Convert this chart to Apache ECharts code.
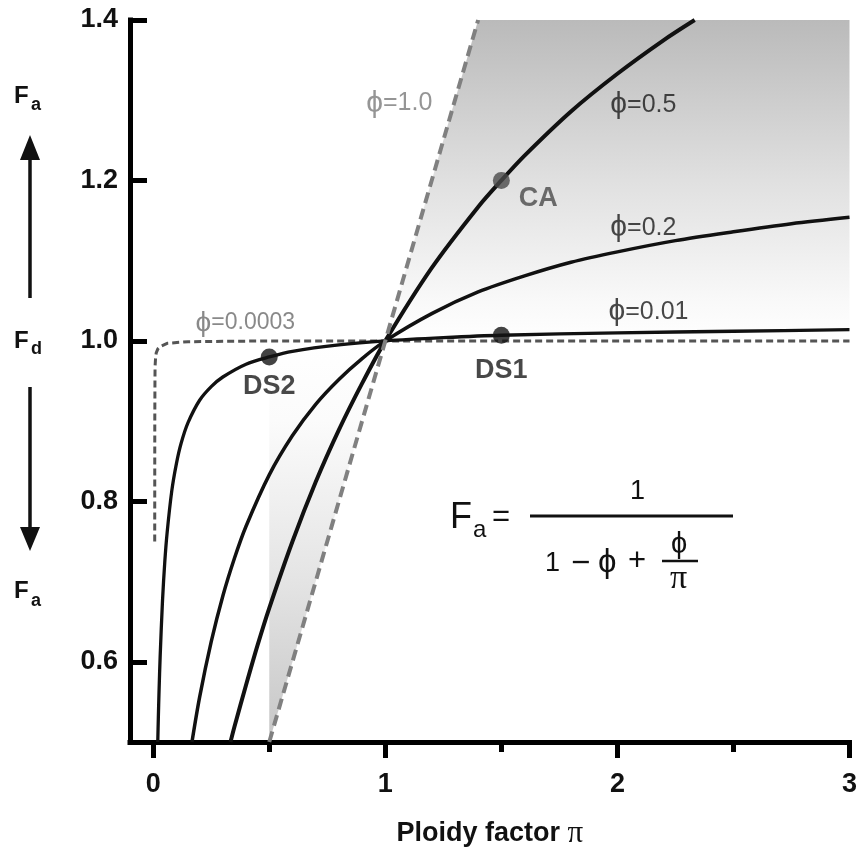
<!DOCTYPE html>
<html>
<head>
<meta charset="utf-8">
<script src="https://cdn.jsdelivr.net/npm/echarts@6/dist/echarts.min.js"></script>
<style>html,body{margin:0;padding:0;background:#fff}#c{width:860px;height:860px}</style>
</head>
<body>
<div id="c"></div>
<script>
// ---- axis ticks ----
const xMajorTicks = [0, 1, 2, 3];
const xMinorTicks = [0.5, 1.5, 2.5];
const yTicks = [0.6, 0.8, 1.0, 1.2, 1.4];

// ---- curves [ploidy factor pi, Fa] ----
const curvePhi05 = [[0.333,0.5],[0.35,0.519],[0.4,0.571],[0.45,0.621],[0.5,0.667],[0.6,0.75],[0.7,0.824],[0.8,0.889],[0.9,0.947],[1.0,1.0],[1.2,1.091],[1.4,1.167],[1.5,1.2],[1.6,1.231],[1.8,1.286],[2.0,1.333],[2.2,1.375],[2.333,1.4]];
const curvePhi02 = [[0.167,0.5],[0.2,0.556],[0.25,0.625],[0.3,0.682],[0.35,0.729],[0.4,0.769],[0.5,0.833],[0.6,0.882],[0.7,0.921],[0.8,0.952],[0.9,0.978],[1.0,1.0],[1.2,1.034],[1.4,1.061],[1.6,1.081],[1.8,1.098],[2.0,1.111],[2.25,1.125],[2.5,1.136],[2.75,1.146],[3.0,1.154]];
const curvePhi001 = [[0.0196,0.5],[0.022,0.529],[0.025,0.562],[0.03,0.607],[0.04,0.676],[0.05,0.725],[0.06,0.761],[0.08,0.813],[0.1,0.847],[0.12,0.872],[0.15,0.898],[0.2,0.926],[0.25,0.943],[0.3,0.955],[0.4,0.971],[0.5,0.98],[0.6,0.987],[0.8,0.995],[1.0,1.0],[1.25,1.004],[1.5,1.007],[2.0,1.01],[2.5,1.012],[3.0,1.014]];
const curvePhi00003 = [[0.0065,0.75],[0.0068,0.9],[0.0075,0.95],[0.008,0.968],[0.010,0.978],[0.013,0.985],[0.02,0.99],[0.03,0.993],[0.06,0.997],[0.15,0.999],[0.5,1.0],[3.0,1.0]];
const curvePhi1 = [[0.5,0.5],[1.4,1.4]];

// ---- shaded regions ----
const shadeUpper = [[1.0,1.0],[1.4,1.4],[3.0,1.4]];
const shadeLower = [[0.5,0.5],[1.0,1.0]];

// ---- marked points ----
const pointNames = ['CA', 'DS2', 'DS1'];
const pointX = [1.5, 0.5, 1.5];
const pointY = [1.2, 0.98, 1.007];

// ---- curve labels ----
const curveLabelPhi = ['1.0', '0.5', '0.2', '0.01', '0.0003'];
const curveLabelX = [1.06, 2.112, 2.112, 2.134, 0.397];
const curveLabelY = [1.296, 1.294, 1.141, 1.036, 1.0225];

const FONT = '"Liberation Sans", Arial, Helvetica, sans-serif';
const SERIF = '"Liberation Serif", "DejaVu Serif", serif';

const chart = echarts.init(document.getElementById('c'), null, {renderer: 'canvas'});

function curve(data, width, color, type, smooth, z) {
  return {
    type: 'line', data: data, showSymbol: false, symbol: 'none',
    smooth: smooth,
    lineStyle: {width: width, color: color, type: type, cap: 'butt'},
    z: z, silent: true
  };
}

const labelColors = ['#7a7a7a', '#1a1a1a', '#1a1a1a', '#1a1a1a', '#6b6b6b'];
const labelSizes = [25, 25, 25, 25, 23];

const option = {
  animation: false,
  backgroundColor: '#fff',
  grid: {left: 130, right: 10, top: 20, bottom: 118, containLabel: false},
  xAxis: [{
    type: 'value', min: -0.1, max: 3, position: 'bottom',
    axisLine: {show: true, onZero: false, lineStyle: {color: '#000', width: 5, cap: 'square'}},
    axisTick: {show: true, inside: false, length: 16, customValues: xMajorTicks, lineStyle: {color: '#000', width: 5}},
    axisLabel: {show: true, customValues: xMajorTicks, formatter: v => String(Math.round(v)), fontSize: 27, fontWeight: 'bold', color: '#111', fontFamily: FONT, margin: 29},
    splitLine: {show: false},
    name: '{a|Ploidy factor }{b|π}', nameLocation: 'middle', nameGap: 76,
    nameTextStyle: {rich: {
      a: {fontSize: 27, fontWeight: 'bold', color: '#111', fontFamily: FONT},
      b: {fontSize: 31, color: '#111', fontFamily: SERIF}
    }}
  }, {
    type: 'value', min: -0.1, max: 3, position: 'bottom', offset: 0,
    axisLine: {show: false, onZero: false},
    axisTick: {show: true, inside: false, length: 10, customValues: xMinorTicks, lineStyle: {color: '#000', width: 5}},
    axisLabel: {show: false},
    splitLine: {show: false}
  }],
  yAxis: {
    type: 'value', min: 0.5, max: 1.4,
    axisLine: {show: true, onZero: false, lineStyle: {color: '#000', width: 5, cap: 'square'}},
    axisTick: {show: true, inside: true, length: 17, customValues: yTicks, lineStyle: {color: '#000', width: 5}},
    axisLabel: {show: true, customValues: yTicks, formatter: v => v.toFixed(1), fontSize: 27, fontWeight: 'bold', color: '#111', fontFamily: FONT, margin: 12},
    splitLine: {show: false}
  },
  series: [
    {
      type: 'line', data: shadeUpper, showSymbol: false, symbol: 'none', silent: true, z: 1,
      lineStyle: {width: 0, opacity: 0},
      areaStyle: {origin: 1, opacity: 1, color: new echarts.graphic.LinearGradient(0, 0, 0, 1, [
        {offset: 0, color: '#bababa'}, {offset: 0.5, color: '#e0e0e0'}, {offset: 0.88, color: '#f9f9f9'}, {offset: 1, color: '#ffffff'}
      ])}
    },
    {
      type: 'line', data: shadeLower, showSymbol: false, symbol: 'none', silent: true, z: 1,
      lineStyle: {width: 0, opacity: 0},
      areaStyle: {origin: 1, opacity: 1, color: new echarts.graphic.LinearGradient(0, 0, 0, 1, [
        {offset: 0, color: '#ffffff'}, {offset: 0.2, color: '#fbfbfb'}, {offset: 0.6, color: '#e4e4e4'}, {offset: 1, color: '#c6c6c6'}
      ])}
    },
    curve(curvePhi00003, 3, '#555555', [7, 4], false, 3),
    curve(curvePhi001, 3.3, '#111111', 'solid', 0.3, 4),
    curve(curvePhi02, 3.5, '#111111', 'solid', 0.3, 4),
    curve(curvePhi05, 4, '#111111', 'solid', 0.3, 4),
    curve(curvePhi1, 4, '#808080', [11, 6], false, 5),
    {
      type: 'scatter', z: 8, silent: true,
      data: pointNames.map((n, i) => ({
        value: [pointX[i], pointY[i]], name: n,
        itemStyle: {color: i === 0 ? '#4a4a4a' : '#141414'},
        label: {
          show: true, formatter: n, position: 'inside',
          offset: i === 0 ? [37, 18] : (i === 1 ? [0, 30] : [0, 35]),
          fontSize: 27, fontWeight: 'bold', fontFamily: FONT,
          color: i === 0 ? '#4a4a4a' : '#1a1a1a'
        }
      })),
      symbol: 'circle', symbolSize: 17
    },
    {
      type: 'scatter', z: 9, silent: true,
      data: curveLabelPhi.map((t, i) => ({
        value: [curveLabelX[i], curveLabelY[i]],
        label: {
          show: true, formatter: '{p|ϕ}{t|=' + t + '}', position: 'inside',
          rich: {
            p: {fontSize: labelSizes[i] + 5, color: labelColors[i], fontFamily: FONT},
            t: {fontSize: labelSizes[i], color: labelColors[i], fontFamily: FONT}
          }
        }
      })),
      symbol: 'circle', symbolSize: 1, itemStyle: {color: 'rgba(0,0,0,0)'}
    }
  ],
  graphic: [
    // left side F labels and arrows
    {type: 'text', left: 14, top: 84, style: {text: 'F', font: 'bold 24px ' + FONT, fill: '#111'}},
    {type: 'text', left: 31, top: 96, style: {text: 'a', font: 'bold 18px ' + FONT, fill: '#111'}},
    {type: 'line', shape: {x1: 30, y1: 298, x2: 30, y2: 156}, style: {stroke: '#111', lineWidth: 3.5}},
    {type: 'polygon', shape: {points: [[20, 160], [40, 160], [30, 135]]}, style: {fill: '#111'}},
    {type: 'text', left: 14, top: 329, style: {text: 'F', font: 'bold 24px ' + FONT, fill: '#111'}},
    {type: 'text', left: 31, top: 340, style: {text: 'd', font: 'bold 18px ' + FONT, fill: '#111'}},
    {type: 'line', shape: {x1: 30, y1: 387, x2: 30, y2: 530}, style: {stroke: '#111', lineWidth: 3.5}},
    {type: 'polygon', shape: {points: [[20, 527], [40, 527], [30, 551]]}, style: {fill: '#111'}},
    {type: 'text', left: 14, top: 579, style: {text: 'F', font: 'bold 24px ' + FONT, fill: '#111'}},
    {type: 'text', left: 31, top: 592, style: {text: 'a', font: 'bold 18px ' + FONT, fill: '#111'}},
    // formula
    {type: 'text', left: 450, top: 500, style: {text: 'F', font: '36px ' + FONT, fill: '#111'}},
    {type: 'text', left: 473, top: 518, style: {text: 'a', font: '24px ' + FONT, fill: '#111'}},
    {type: 'text', left: 492, top: 502, style: {text: '=', font: '31px ' + FONT, fill: '#111'}},
    {type: 'line', shape: {x1: 530, y1: 516, x2: 733, y2: 516}, style: {stroke: '#111', lineWidth: 3}},
    {type: 'text', left: 630, top: 478, style: {text: '1', font: '27px ' + FONT, fill: '#111'}},
    {type: 'text', left: 545, top: 550, style: {text: '1', font: '27px ' + FONT, fill: '#111'}},
    {type: 'text', left: 571, top: 547, style: {text: '−', font: '33px ' + FONT, fill: '#111'}},
    {type: 'text', left: 598, top: 546, style: {text: 'ϕ', font: '33px ' + FONT, fill: '#111'}},
    {type: 'text', left: 628, top: 546, style: {text: '+', font: '31px ' + FONT, fill: '#111'}},
    {type: 'line', shape: {x1: 662, y1: 561, x2: 698, y2: 561}, style: {stroke: '#111', lineWidth: 2.5}},
    {type: 'text', left: 671, top: 530, style: {text: 'ϕ', font: '29px ' + FONT, fill: '#111'}},
    {type: 'text', left: 670, top: 562, style: {text: 'π', font: '34px ' + SERIF, fill: '#111'}}
  ]
};
chart.setOption(option);
</script>
</body>
</html>
